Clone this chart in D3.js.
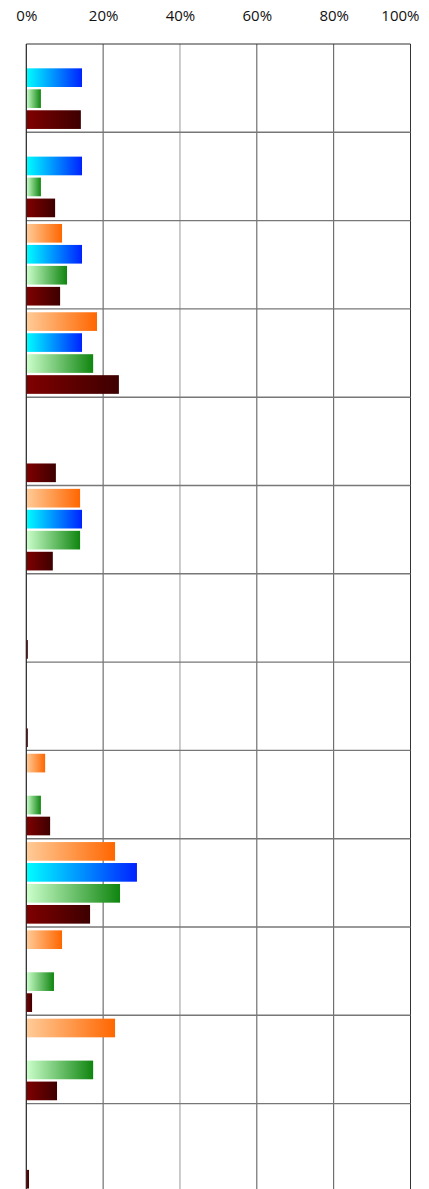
<!DOCTYPE html>
<html>
<head>
<meta charset="utf-8">
<script src="https://cdn.jsdelivr.net/npm/d3@7"></script>
<style>
  body { margin: 0; background: #fff; overflow: hidden; }
  .tick text { font-family: "Open Sans", sans-serif; font-size: 15px; fill: #111; }
</style>
</head>
<body>
<svg id="chart" width="429" height="1189"></svg>
<script>
// ---- data ----
var categories = ["Cat 1", "Cat 2", "Cat 3", "Cat 4", "Cat 5", "Cat 6", "Cat 7",
                  "Cat 8", "Cat 9", "Cat 10", "Cat 11", "Cat 12", "Cat 13"];
var seriesNames = ["Series 1", "Series 2", "Series 3", "Series 4"];
var series1 = [0, 0, 9.3, 18.4, 0, 14.0, 0, 0, 4.9, 23.1, 9.3, 23.1, 0];
var series2 = [14.5, 14.5, 14.5, 14.5, 0, 14.5, 0, 0, 0, 28.8, 0, 0, 0];
var series3 = [3.8, 3.8, 10.6, 17.4, 0, 14.0, 0, 0, 3.8, 24.4, 7.2, 17.4, 0];
var series4 = [14.2, 7.5, 8.8, 24.1, 7.7, 6.9, 0.4, 0.4, 6.2, 16.6, 1.5, 8.0, 0.7];
var tickValues = [0, 20, 40, 60, 80, 100];

// gradient stops for each series (left -> right)
var gradColors = [
  ["#ffcc99", "#ff6600"],
  ["#00ffff", "#0022ff"],
  ["#ccffcc", "#0f850f"],
  ["#800000", "#3d0000"]
];

var allSeries = [series1, series2, series3, series4];

// note: "top" is reserved on window, so use plot* names
var svg = d3.select("#chart"),
  plotLeft = 26.3, plotRight = 410.5, plotTop = 44, bandH = 88.3;

var x = d3.scaleLinear().domain([0, 100]).range([plotLeft, plotRight]);
var y = d3.scaleBand().domain(categories).range([plotTop, plotTop + bandH * categories.length]);
var ySub = d3.scaleBand().domain(seriesNames).range([0, y.bandwidth()])
  .paddingInner(0.11).paddingOuter(0.16);

// gradients
var defs = svg.append("defs");
gradColors.forEach(function(c, i) {
  var g = defs.append("linearGradient")
    .attr("id", "grad" + i)
    .attr("x1", "0%").attr("x2", "100%").attr("y1", "0%").attr("y2", "0%");
  g.append("stop").attr("offset", "0%").attr("stop-color", c[0]);
  g.append("stop").attr("offset", "100%").attr("stop-color", c[1]);
});

// vertical gridlines (the 40% one renders lighter in the original)
svg.append("g")
  .selectAll("line")
  .data(tickValues.slice(1))
  .enter()
  .append("line")
  .attr("x1", function(d) { return x(d); })
  .attr("x2", function(d) { return x(d); })
  .attr("y1", plotTop).attr("y2", 1189)
  .attr("stroke", function(d) { return d === 40 ? "#9a9a9a" : (d === 100 ? "#333" : "#555"); })
  .attr("stroke-width", 1);

// horizontal category separators
svg.append("g")
  .selectAll("line")
  .data(categories.slice(1))
  .enter()
  .append("line")
  .attr("x1", plotLeft).attr("x2", plotRight)
  .attr("y1", function(d) { return y(d); })
  .attr("y2", function(d) { return y(d); })
  .attr("stroke", "#777")
  .attr("stroke-width", 1.4);

// top border
svg.append("line")
  .attr("x1", plotLeft).attr("x2", plotRight)
  .attr("y1", plotTop).attr("y2", plotTop)
  .attr("stroke", "#333");

// bars
var rows = [];
categories.forEach(function(cat, ci) {
  allSeries.forEach(function(s, si) {
    rows.push({ cat: cat, series: seriesNames[si], idx: si, value: s[ci] });
  });
});

svg.append("g")
  .selectAll("rect")
  .data(rows.filter(function(d) { return d.value > 0; }))
  .enter()
  .append("rect")
  .attr("x", x(0))
  .attr("y", function(d) { return y(d.cat) + ySub(d.series); })
  .attr("width", function(d) { return x(d.value) - x(0); })
  .attr("height", ySub.bandwidth())
  .attr("fill", function(d) { return "url(#grad" + d.idx + ")"; });

// left axis line
svg.append("line")
  .attr("x1", plotLeft).attr("x2", plotLeft)
  .attr("y1", plotTop).attr("y2", 1189)
  .attr("stroke", "#222")
  .attr("stroke-width", 1.2);

// top tick labels
var axis = svg.append("g")
  .attr("transform", "translate(0,28)")
  .call(d3.axisTop(x).tickValues(tickValues).tickSize(0)
    .tickFormat(function(d) { return d + "%"; }));
axis.select(".domain").remove();
axis.selectAll(".tick text").attr("y", -7);
// keep the last label inside the page
axis.selectAll(".tick text")
  .filter(function(d) { return d === 100; })
  .attr("text-anchor", "end")
  .attr("dx", 419 - x(100));
</script>
</body>
</html>
